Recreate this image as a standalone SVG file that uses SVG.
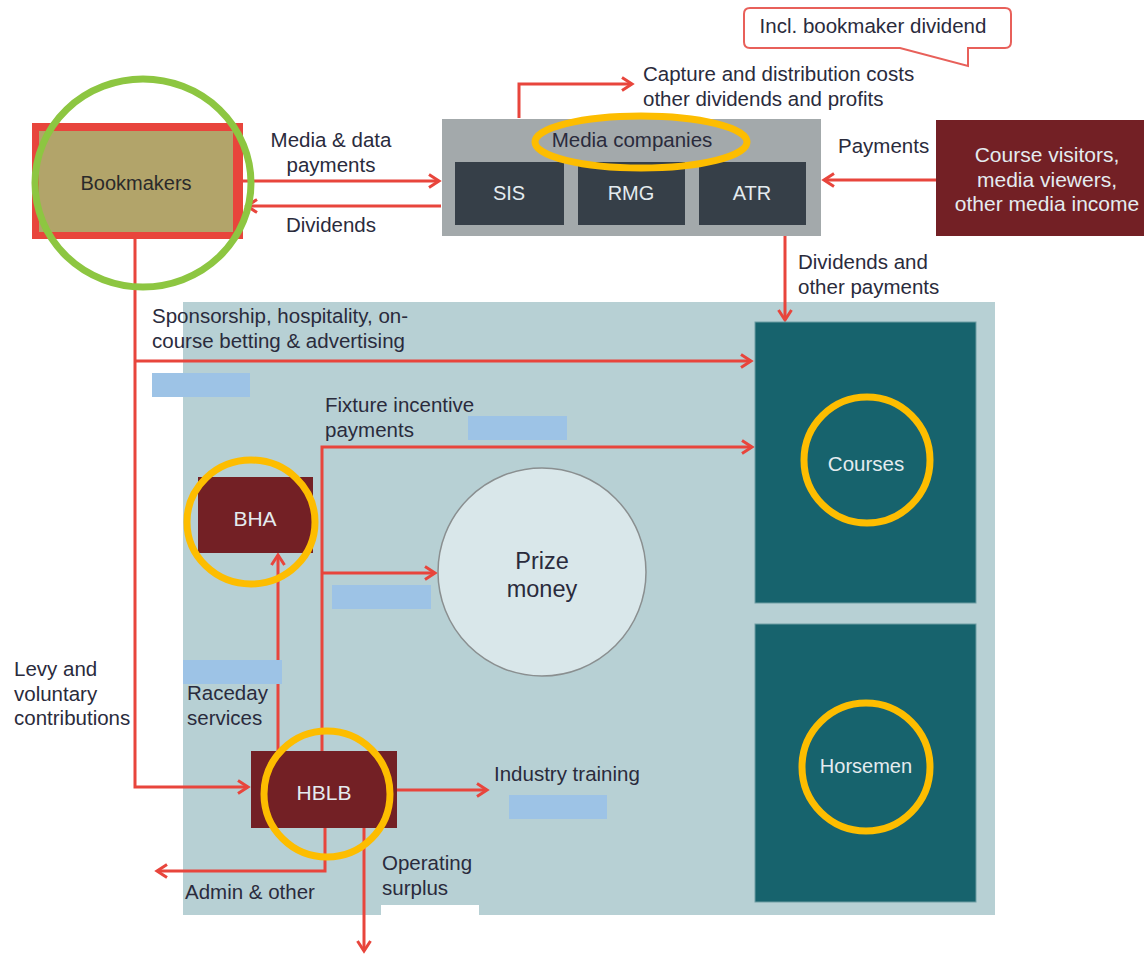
<svg xmlns="http://www.w3.org/2000/svg" width="1144" height="954" viewBox="0 0 1144 954">
<defs>
<marker id="arr" markerUnits="userSpaceOnUse" markerWidth="16" markerHeight="16" refX="12" refY="8" orient="auto">
<path d="M2,1.5 L12,8 L2,14.5" fill="none" stroke="#e8453c" stroke-width="3"/>
</marker>
<style>
.t{font-family:"Liberation Sans",Arial,sans-serif;font-size:20.5px;fill:#2a2b3c}
.w{font-family:"Liberation Sans",Arial,sans-serif;fill:#e4ebef}
.c{fill:none;stroke:#e8453c;stroke-width:3;marker-end:url(#arr)}
.ring{fill:none;stroke:#fdbd00;stroke-width:7}
.red{fill:#9dc3e6}
.dark{fill:#732025}
.teal{fill:#17636d;stroke:#6f9da3;stroke-width:1}
</style>
</defs>
<rect width="1144" height="954" fill="#ffffff"/>
<rect id="panel" x="183" y="302" width="812" height="613" fill="#b7d0d4"/>

<g id="callout">
<path d="M750,8 H1005 Q1011,8 1011,14 V42 Q1011,48 1005,48 H968 V66 L900,48 H750 Q744,48 744,42 V14 Q744,8 750,8 Z" fill="#ffffff" stroke="#e8605a" stroke-width="2"/>
<text class="t" x="873" y="33" text-anchor="middle">Incl. bookmaker dividend</text>
</g>

<g id="connectors">
<path class="c" d="M243,181 H439"/>
<path class="c" d="M441,206 H247"/>
<path class="c" d="M519,118 V84 H632"/>
<path class="c" d="M936,180 H824"/>
<path class="c" d="M785,236 V320"/>
<path class="c" d="M135,239 V787 H248"/>
<path class="c" d="M135,361 H751"/>
<path class="c" d="M322,751 V447 H752"/>
<path class="c" d="M322,573 H435"/>
<path class="c" d="M278,751 V555"/>
<path class="c" d="M397,790 H487"/>
<path class="c" d="M325,828 V871 H157"/>
<path class="c" d="M364,828 V951"/>
</g>

<g id="labels">
<text class="t" x="331" y="147" text-anchor="middle">Media &amp; data</text>
<text class="t" x="331" y="172" text-anchor="middle">payments</text>
<text class="t" x="331" y="232" text-anchor="middle">Dividends</text>
<text class="t" x="643" y="81">Capture and distribution costs</text>
<text class="t" x="643" y="106">other dividends and profits</text>
<text class="t" x="838" y="153">Payments</text>
<text class="t" x="798" y="269">Dividends and</text>
<text class="t" x="798" y="294">other payments</text>
<text class="t" x="152" y="323">Sponsorship, hospitality, on-</text>
<text class="t" x="152" y="348">course betting &amp; advertising</text>
<text class="t" x="325" y="412">Fixture incentive</text>
<text class="t" x="325" y="437">payments</text>
<text class="t" x="14" y="676">Levy and</text>
<text class="t" x="14" y="701">voluntary</text>
<text class="t" x="14" y="725">contributions</text>
<text class="t" x="187" y="700">Raceday</text>
<text class="t" x="187" y="725">services</text>
<text class="t" x="494" y="781">Industry training</text>
<text class="t" x="185" y="899">Admin &amp; other</text>
<text class="t" x="382" y="870">Operating</text>
<text class="t" x="382" y="895">surplus</text>
</g>

<g id="redactions">
<rect class="red" x="152" y="373" width="98" height="24"/>
<rect class="red" x="468" y="416" width="99" height="24"/>
<rect class="red" x="332" y="585" width="99" height="24"/>
<rect class="red" x="183" y="660" width="99" height="24"/>
<rect class="red" x="509" y="795" width="98" height="24"/>
<rect x="381" y="905" width="98" height="22" fill="#ffffff"/>
</g>

<g id="bookmakers">
<rect x="32" y="123" width="211" height="116" fill="#e8453c"/>
<rect x="39" y="131" width="194" height="101" fill="#b2a46a"/>
<text x="136" y="190" text-anchor="middle" font-family="Liberation Sans, Arial, sans-serif" font-size="20" fill="#2a2a2a">Bookmakers</text>
<ellipse cx="143" cy="183" rx="108" ry="104" fill="none" stroke="#8dc641" stroke-width="7"/>
</g>

<g id="media">
<rect x="442" y="119" width="379" height="117" fill="#a3a9ab"/>
<text x="632" y="147" text-anchor="middle" font-family="Liberation Sans, Arial, sans-serif" font-size="20.5" fill="#2a2b3c">Media  companies</text>
<rect x="455" y="162" width="109" height="63" fill="#363f48"/>
<rect x="578" y="162" width="107" height="63" fill="#363f48"/>
<rect x="699" y="162" width="107" height="63" fill="#363f48"/>
<text class="w" x="509" y="200" text-anchor="middle" font-size="20">SIS</text>
<text class="w" x="631" y="200" text-anchor="middle" font-size="20">RMG</text>
<text class="w" x="752" y="200" text-anchor="middle" font-size="20">ATR</text>
<ellipse class="ring" cx="641" cy="142" rx="106" ry="26"/>
</g>

<g id="visitors">
<rect class="dark" x="936" y="120" width="208" height="116"/>
<text class="w" x="1047" y="162" text-anchor="middle" font-size="21">Course visitors,</text>
<text class="w" x="1047" y="187" text-anchor="middle" font-size="21">media viewers,</text>
<text class="w" x="1047" y="211" text-anchor="middle" font-size="21">other media income</text>
</g>

<g id="courses">
<rect class="teal" x="755" y="322" width="221" height="281"/>
<text class="w" x="866" y="471" text-anchor="middle" font-size="20.5">Courses</text>
<circle class="ring" cx="867" cy="460" r="63"/>
</g>

<g id="horsemen">
<rect class="teal" x="755" y="624" width="221" height="278"/>
<text class="w" x="866" y="773" text-anchor="middle" font-size="20">Horsemen</text>
<circle class="ring" cx="866" cy="767" r="64"/>
</g>

<g id="bha">
<rect class="dark" x="198" y="477" width="115" height="76"/>
<text class="w" x="255" y="526" text-anchor="middle" font-size="21">BHA</text>
<ellipse class="ring" cx="251" cy="522" rx="64" ry="62"/>
</g>

<g id="prize">
<circle cx="542" cy="572" r="104" fill="#d9e7ea" stroke="#8a8f90" stroke-width="1.5"/>
<text x="542" y="569" text-anchor="middle" font-family="Liberation Sans, Arial, sans-serif" font-size="23.5" fill="#2a2b3c">Prize</text>
<text x="542" y="597" text-anchor="middle" font-family="Liberation Sans, Arial, sans-serif" font-size="23.5" fill="#2a2b3c">money</text>
</g>

<g id="hblb">
<rect class="dark" x="251" y="751" width="146" height="77"/>
<text class="w" x="324" y="800" text-anchor="middle" font-size="21">HBLB</text>
<circle class="ring" cx="327" cy="794" r="63"/>
</g>
</svg>
